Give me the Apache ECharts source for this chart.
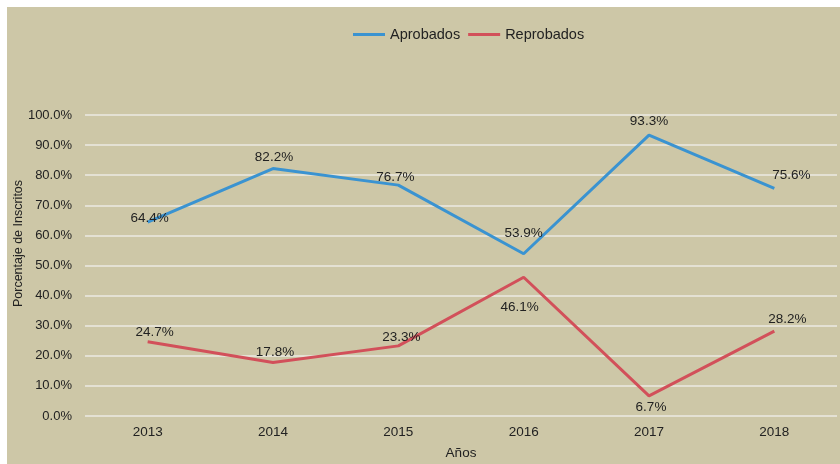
<!DOCTYPE html>
<html>
<head>
<meta charset="utf-8">
<script src="https://cdn.jsdelivr.net/npm/echarts@6/dist/echarts.min.js"></script>
<style>
html,body{margin:0;padding:0;background:#ffffff;}
#c{position:absolute;left:7px;top:7px;width:833px;height:457px;background:#CDC7A7;}
</style>
</head>
<body>
<div id="c"></div>
<script>
var categories = ['2013','2014','2015','2016','2017','2018'];
var aprobados = [64.4, 82.2, 76.7, 53.9, 93.3, 75.6];
var reprobados = [24.7, 17.8, 23.3, 46.1, 6.7, 28.2];
var seriesNames = ['Aprobados', 'Reprobados'];
var yTicks = [0,10,20,30,40,50,60,70,80,90,100];

// label placement (style only)
var aprOffsets = [[2,-4],[1,-11],[-3,-8],[0,-20],[0,-14],[17,-13]];
var repOffsets = [[7,-9],[2,-10],[3,-9],[-4,30],[2,11],[13,-12]];

function buildData(vals, offs){
  return vals.map(function(v,i){
    return {value:v, label:{offset:offs[i]}};
  });
}

var chart = echarts.init(document.getElementById('c'));
var fontFam = 'Liberation Sans, Arial, sans-serif';
chart.setOption({
  animation:false,
  textStyle:{fontFamily:fontFam},
  legend:{
    top:15, left:341,
    icon:'rect', itemWidth:32, itemHeight:3, itemGap:8,
    textStyle:{fontSize:14.5, color:'#222', fontFamily:fontFam},
    data:seriesNames
  },
  grid:{left:78, right:3, top:108, bottom:48, outerBoundsMode:'none', containLabel:false},
  xAxis:{
    type:'category', data:categories, boundaryGap:true,
    axisLine:{show:false}, axisTick:{show:false},
    axisLabel:{fontSize:13.5, color:'#222', margin:9, fontFamily:fontFam},
    name:'Años', nameLocation:'middle', nameGap:30, nameMoveOverlap:false,
    nameTextStyle:{fontSize:13.5, color:'#222', fontFamily:fontFam}
  },
  yAxis:{
    type:'value', min:yTicks[0], max:yTicks[yTicks.length-1], interval:10,
    axisLine:{show:false}, axisTick:{show:false},
    axisLabel:{fontSize:13, color:'#222', margin:13, fontFamily:fontFam,
      formatter:function(v){return v.toFixed(1)+'%';}},
    splitLine:{lineStyle:{color:'#E4E1D4', width:2}},
    name:'Porcentaje de Inscritos', nameLocation:'middle', nameGap:60, nameMoveOverlap:false,
    nameTextStyle:{fontSize:12.5, color:'#222', fontFamily:fontFam, padding:[0,0,0,44]}
  },
  series:[
    {
      name:seriesNames[0], type:'line', data:buildData(aprobados, aprOffsets),
      symbol:'circle', symbolSize:0.1, showSymbol:true,
      lineStyle:{color:'#3A93D1', width:3}, itemStyle:{color:'#3A93D1'},
      label:{show:true, position:'inside', fontSize:13.5, color:'#222', fontFamily:fontFam,
        formatter:function(p){return p.value.toFixed(1)+'%';}}
    },
    {
      name:seriesNames[1], type:'line', data:buildData(reprobados, repOffsets),
      symbol:'circle', symbolSize:0.1, showSymbol:true,
      lineStyle:{color:'#D2505A', width:3}, itemStyle:{color:'#D2505A'},
      label:{show:true, position:'inside', fontSize:13.5, color:'#222', fontFamily:fontFam,
        formatter:function(p){return p.value.toFixed(1)+'%';}}
    }
  ]
});
</script>
</body>
</html>
